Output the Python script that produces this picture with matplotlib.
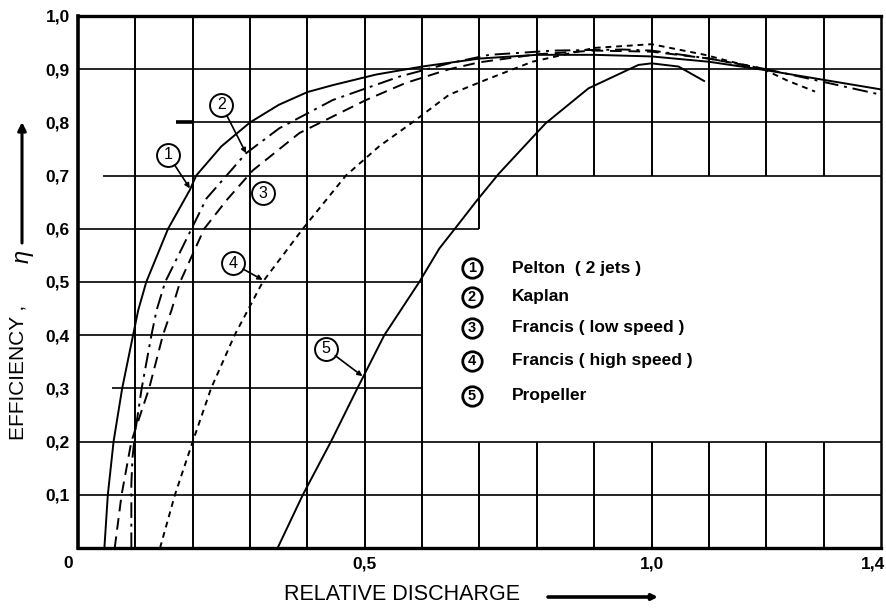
import numpy as np
import matplotlib
matplotlib.use("Agg")
import matplotlib.pyplot as plt
from matplotlib.transforms import ScaledTranslation

# ---------------------------------------------------------
# data (relative discharge -> efficiency)
# ---------------------------------------------------------
pelton_x = [0.046, 0.052, 0.062, 0.077, 0.096, 0.105, 0.119, 0.157, 0.195, 0.206, 0.25, 0.30,
            0.35, 0.40, 0.444, 0.52, 0.60, 0.70, 0.80, 0.90, 1.00, 1.10, 1.20, 1.30, 1.40]
pelton_y = [0.0, 0.1, 0.2, 0.3, 0.4, 0.447, 0.5, 0.6, 0.673, 0.7, 0.755, 0.80,
            0.833, 0.857, 0.87, 0.89, 0.905, 0.92, 0.927, 0.927, 0.924, 0.914, 0.898, 0.88, 0.862]

kaplan_x = [0.093, 0.093, 0.095, 0.100, 0.111, 0.128, 0.137, 0.152, 0.198, 0.224, 0.293, 0.351,
            0.444, 0.56, 0.647, 0.717, 0.83, 0.95, 1.00, 1.10, 1.20, 1.30, 1.40]
kaplan_y = [0.0, 0.12, 0.17, 0.22, 0.3, 0.4, 0.447, 0.5, 0.6, 0.657, 0.742, 0.789,
            0.842, 0.886, 0.911, 0.927, 0.935, 0.937, 0.935, 0.92, 0.90, 0.876, 0.852]

francis_low_x = [0.064, 0.076, 0.093, 0.124, 0.148, 0.163, 0.178, 0.22, 0.26, 0.305, 0.386,
                 0.502, 0.571, 0.647, 0.70, 0.80, 0.90, 1.00, 1.10, 1.20]
francis_low_y = [0.0, 0.1, 0.2, 0.3, 0.4, 0.447, 0.5, 0.6, 0.655, 0.71, 0.78,
                 0.842, 0.874, 0.90, 0.913, 0.928, 0.935, 0.933, 0.92, 0.90]

francis_high_x = [0.143, 0.169, 0.20, 0.232, 0.273, 0.322, 0.392, 0.467, 0.525, 0.583, 0.647,
                  0.711, 0.792, 0.90, 1.00, 1.093, 1.139, 1.195, 1.238, 1.285]
francis_high_y = [0.0, 0.1, 0.2, 0.3, 0.4, 0.5, 0.6, 0.7, 0.755, 0.8, 0.852,
                  0.88, 0.914, 0.94, 0.947, 0.927, 0.914, 0.90, 0.878, 0.858]

propeller_x = [0.348, 0.392, 0.441, 0.487, 0.534, 0.595, 0.63, 0.657, 0.696, 0.734, 0.815,
               0.89, 0.977, 1.00, 1.047, 1.093]
propeller_y = [0.0, 0.1, 0.2, 0.3, 0.4, 0.5, 0.563, 0.6, 0.654, 0.704, 0.798,
               0.864, 0.908, 0.911, 0.905, 0.877]

legend_labels = ["Pelton  ( 2 jets )", "Kaplan", "Francis ( low speed )",
                 "Francis ( high speed )", "Propeller"]

x_ticks = [0.0, 0.5, 1.0, 1.4]
x_ticklabels = ["0", "0,5", "1,0", "1,4"]
y_ticks = [0.1, 0.2, 0.3, 0.4, 0.5, 0.6, 0.7, 0.8, 0.9, 1.0]
y_ticklabels = ["0,1", "0,2", "0,3", "0,4", "0,5", "0,6", "0,7", "0,8", "0,9", "1,0"]

# ---------------------------------------------------------
# figure / axes
# ---------------------------------------------------------
W, H = 886, 608
fig = plt.figure(figsize=(W / 100, H / 100), dpi=100)
ax = fig.add_axes([78 / W, 1 - 548 / H, (881 - 78) / W, (548 - 16) / H])
ax.set_xlim(0, 1.4)
ax.set_ylim(0, 1.0)

SANS = ["Liberation Sans", "DejaVu Sans"]
TICKFONT = dict(family=SANS, fontweight="bold", fontsize=12.5)

# grid with the blank legend box (x 0.6..1.4, y 0.2..0.7)
for x in np.round(np.arange(0.1, 1.35, 0.1), 1):
    if x <= 0.6:
        segs = [(0, 1)]
    elif x == 0.7:
        segs = [(0, 0.2), (0.6, 1)]
    else:
        segs = [(0, 0.2), (0.7, 1)]
    for a, b in segs:
        ax.vlines(x, a, b, color="black", lw=1.4, zorder=1)

starts = {0.3: 0.059, 0.7: 0.044, 0.8: 0.17}
for y in np.round(np.arange(0.1, 0.95, 0.1), 1):
    if y <= 0.2 or y >= 0.7:
        end = 1.4
    elif y == 0.6:
        end = 0.7
    else:
        end = 0.6
    ax.hlines(y, starts.get(y, 0), end, color="black", lw=1.2, zorder=1)
ax.hlines(0.8, 0.17, 0.2, color="black", lw=2.6, zorder=1)

for side, lw in [("left", 2.6), ("top", 2.4), ("bottom", 2.4), ("right", 1.8)]:
    ax.spines[side].set_linewidth(lw)
    ax.spines[side].set_zorder(4)

# ---------------------------------------------------------
# curves
# ---------------------------------------------------------
kw = dict(color="black", lw=1.4, zorder=3, solid_capstyle="butt", dash_capstyle="butt")
ax.plot(pelton_x, pelton_y, ls="-", **kw)
ax.plot(kaplan_x, kaplan_y, ls=(0, (8, 3, 1.5, 3)), **kw)
ax.plot(francis_low_x, francis_low_y, ls=(0, (6, 3.5)), **kw)
ax.plot(francis_high_x, francis_high_y, ls=(0, (3, 2.5)), **kw)
ax.plot(propeller_x, propeller_y, ls="-", **kw)

# numbered circles on the curves, with leaders
callouts = [
    ("1", (0.157, 0.739), (0.195, 0.676)),
    ("2", (0.250, 0.833), (0.293, 0.742)),
    ("3", (0.322, 0.667), None),
    ("4", (0.270, 0.535), (0.322, 0.504)),
    ("5", (0.432, 0.375), (0.496, 0.323)),
]
for num, (cx, cy), target in callouts:
    ax.plot(cx, cy, "o", ms=16.5, mfc="white", mec="black", mew=1.4, zorder=5)
    ax.text(cx, cy, num, ha="center", va="center", fontsize=11.5, family=SANS, zorder=6)
    if target is not None:
        ax.annotate("", xy=target, xytext=(cx, cy),
                    arrowprops=dict(arrowstyle="-|>", lw=1.2, color="black",
                                    shrinkA=8.5, shrinkB=0, mutation_scale=7),
                    zorder=5)

# legend inside the blank box
leg_y = [0.526, 0.472, 0.414, 0.352, 0.286]
for i, (lab, ly) in enumerate(zip(legend_labels, leg_y)):
    ax.plot(0.687, ly, "o", ms=14, mfc="white", mec="black", mew=2.0, zorder=5)
    ax.text(0.687, ly, str(i + 1), ha="center", va="center", fontsize=10.5,
            fontweight="bold", family=SANS, zorder=6)
    ax.text(0.757, ly, lab, ha="left", va="center", fontsize=12.5,
            fontweight="bold", family=SANS, zorder=6)

# ---------------------------------------------------------
# ticks and axis labels
# ---------------------------------------------------------
ax.set_xticks(x_ticks)
ax.set_xticklabels(x_ticklabels, **TICKFONT)
ax.set_yticks(y_ticks)
ax.set_yticklabels(y_ticklabels, **TICKFONT)
ax.tick_params(axis="both", length=0)
ax.tick_params(axis="x", pad=6)
ax.tick_params(axis="y", pad=6)
xlabels = ax.get_xticklabels()
xlabels[0].set_transform(xlabels[0].get_transform() + ScaledTranslation(-0.10, 0, fig.dpi_scale_trans))
xlabels[-1].set_transform(xlabels[-1].get_transform() + ScaledTranslation(-0.08, 0, fig.dpi_scale_trans))

fig.text(18 / W, 1 - 372 / H, "EFFICIENCY ,", rotation=90, ha="center", va="center",
         fontsize=15, family=SANS)
fig.text(22 / W, 1 - 256 / H, "η", rotation=90, ha="center", va="center",
         fontsize=17, style="italic", family=SANS)
ax.annotate("", xy=(22 / W, 1 - 122 / H), xytext=(22 / W, 1 - 243 / H),
            xycoords="figure fraction", textcoords="figure fraction",
            arrowprops=dict(arrowstyle="-|>", lw=2.2, color="black", mutation_scale=12,
                            shrinkA=0, shrinkB=0))

fig.text(402 / W, 1 - 594 / H, "RELATIVE DISCHARGE", ha="center", va="center",
         fontsize=15.5, family=SANS)
ax.annotate("", xy=(658 / W, 1 - 597 / H), xytext=(548 / W, 1 - 597 / H),
            xycoords="figure fraction", textcoords="figure fraction",
            arrowprops=dict(arrowstyle="-|>", lw=2.6, color="black", mutation_scale=8,
                            shrinkA=0, shrinkB=0))

fig.savefig("out.png", dpi=100)
